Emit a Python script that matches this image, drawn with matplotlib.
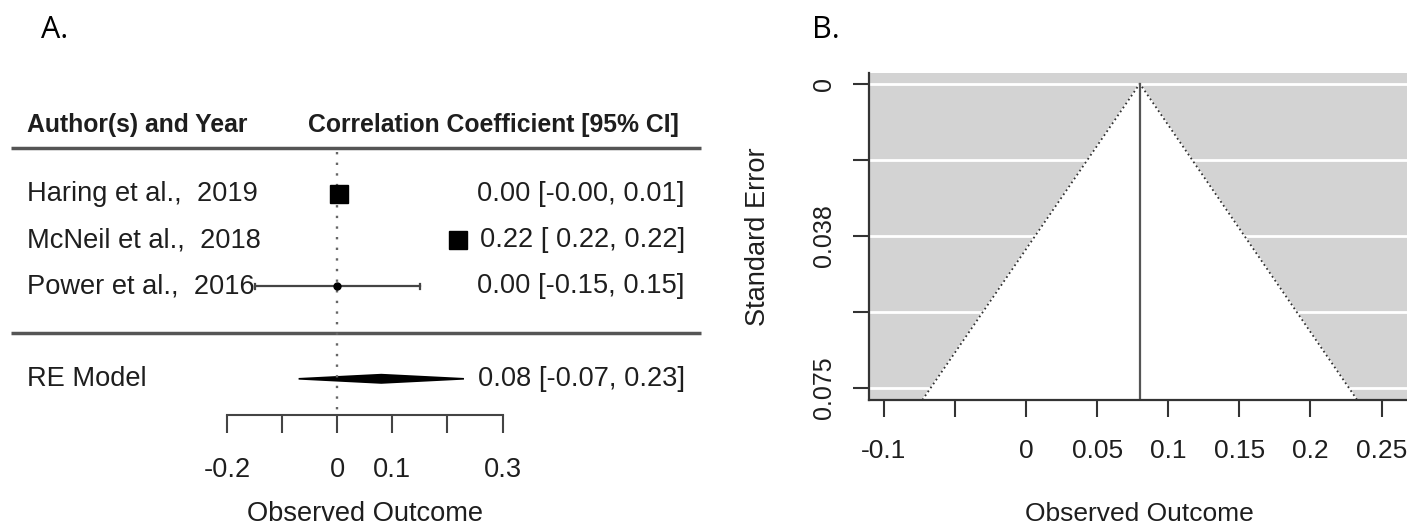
import numpy as np
import matplotlib
matplotlib.use('Agg')
import matplotlib.pyplot as plt

plt.rcParams['font.family'] = ['Liberation Sans', 'DejaVu Sans']

# Forest plot data (panel A)
study_labels = ['Haring et al.,  2019', 'McNeil et al.,  2018', 'Power et al.,  2016']
estimates = [0.003, 0.22, 0.00]
ci_low = [-0.003, 0.22, -0.15]
ci_high = [0.008, 0.22, 0.15]
marker_kind = ['square', 'square', 'dot']

re_label = 'RE Model'
re_est = 0.08
re_low = -0.07
re_high = 0.23

forest_ticks = [-0.2, -0.1, 0.0, 0.1, 0.2, 0.3]
forest_ticklabels = ['-0.2', '', '0', '0.1', '', '0.3']

# Funnel plot data (panel B)
funnel_center = 0.08
se_ticks = [0.0, 0.01875, 0.0375, 0.05625, 0.075]
se_ticklabels = ['0', '', '0.038', '', '0.075']
funnel_xticks = [-0.1, -0.05, 0.0, 0.05, 0.1, 0.15, 0.2, 0.25]
funnel_xticklabels = ['-0.1', '', '0', '0.05', '0.1', '0.15', '0.2', '0.25']

TXT = '#1e1e1e'
FS = 19.6

fig = plt.figure(figsize=(14.07, 5.29), dpi=100)

# ---------------- panel A: forest plot ----------------
ax_a = fig.add_axes([0, 0, 703.5 / 1407, 1])
px0, ppu = 337.2, 551.0
ax_a.set_xlim((0 - px0) / ppu, (703.5 - px0) / ppu)
ax_a.set_ylim(-2.251, 9.199)
for s in ['top', 'right', 'left']:
    ax_a.spines[s].set_visible(False)
ax_a.set_yticks([])
ax_a.patch.set_alpha(0)

rows = np.arange(len(study_labels), 0, -1) + 2
x_left = -0.563
x_right = 0.631

ax_a.text(x_left, 6.5, 'Author(s) and Year', ha='left', va='center',
          fontsize=17.8, fontweight='bold', color=TXT)
ax_a.text(0.62, 6.5, 'Correlation Coefficient [95% CI]', ha='right', va='center',
          fontsize=17.8, fontweight='bold', color=TXT)
ax_a.plot([-0.592, 0.66], [6, 6], color='#555555', lw=2.5, solid_capstyle='butt')
ax_a.plot([-0.592, 0.66], [2, 2], color='#555555', lw=2.5, solid_capstyle='butt')
ax_a.plot([0, 0], [5.9, 0.22], color='#666666', lw=1.7, linestyle=(0, (1, 3.5)))

for y, lab, est, lo, hi, kind in zip(rows, study_labels, estimates, ci_low, ci_high, marker_kind):
    ax_a.text(x_left, y, lab, ha='left', va='center', fontsize=FS, color=TXT)
    ax_a.text(x_right, y, f'{est:.2f} [{lo:5.2f}, {hi:.2f}]',
              ha='right', va='center', fontsize=FS, color=TXT)
    if kind == 'square':
        ax_a.plot([lo, hi], [y, y], color='#333333', lw=1.5)
        ax_a.plot(est, y, marker='s', markersize=13, color='black', linestyle='none')
    else:
        ax_a.plot([lo, hi], [y, y], color='#444444', lw=1.6)
        ax_a.plot([lo, lo], [y - 0.06, y + 0.06], color='#444444', lw=1.6)
        ax_a.plot([hi, hi], [y - 0.06, y + 0.06], color='#444444', lw=1.6)
        ax_a.plot(est, y, marker='o', markersize=5, color='black', linestyle='none')

ax_a.text(x_left, 1, re_label, ha='left', va='center', fontsize=FS, color=TXT)
ax_a.text(x_right, 1, f'{re_est:.2f} [{re_low:5.2f}, {re_high:.2f}]',
          ha='right', va='center', fontsize=FS, color=TXT)
ax_a.fill([re_low, re_est, re_high, re_est], [1, 1.09, 1, 0.91],
          color='black', lw=1.2, edgecolor='black')

ax_a.spines['bottom'].set_position(('data', 0.22))
ax_a.spines['bottom'].set_bounds(forest_ticks[0], forest_ticks[-1])
ax_a.spines['bottom'].set_color('#444444')
ax_a.spines['bottom'].set_linewidth(1.5)
ax_a.set_xticks(forest_ticks)
ax_a.set_xticklabels(forest_ticklabels)
ax_a.tick_params(axis='x', direction='out', length=13, width=1.5, color='#444444',
                 labelsize=FS, labelcolor=TXT, pad=17)
ax_a.set_xlabel('Observed Outcome', fontsize=FS, color=TXT, va='center')
ax_a.xaxis.set_label_coords(0.05, -1.926, transform=ax_a.transData)

# ---------------- panel B: funnel plot ----------------
ax_b = fig.add_axes([869 / 1407, 129 / 529, (1410 - 869) / 1407, 327.5 / 529])
ax_b.set_facecolor('#d3d3d3')
ax_b.set_xlim(-0.1104, 0.27)
se_lim = 0.078
ax_b.set_ylim(se_lim, -0.00276)
for s in ['top', 'right']:
    ax_b.spines[s].set_visible(False)
for s in ['left', 'bottom']:
    ax_b.spines[s].set_color('#333333')
    ax_b.spines[s].set_linewidth(1.6)

ax_b.set_yticks(se_ticks)
ax_b.set_yticklabels(se_ticklabels, rotation=90, va='center')
ax_b.set_xticks(funnel_xticks)
ax_b.set_xticklabels(funnel_xticklabels)
ax_b.yaxis.grid(True, color='white', lw=2)
ax_b.set_axisbelow(True)

funnel_x = [funnel_center - 1.96 * se_lim, funnel_center, funnel_center + 1.96 * se_lim]
funnel_y = [se_lim, 0, se_lim]
ax_b.fill(funnel_x, funnel_y, color='white', zorder=1.5)
ax_b.plot(funnel_x, funnel_y, color='#333333', lw=1.3, linestyle=':', zorder=2)
ax_b.plot([funnel_center, funnel_center], [0, se_lim], color='#555555', lw=1.6, zorder=2)

ax_b.tick_params(axis='x', direction='out', length=12, width=1.5, color='#333333',
                 labelsize=19, labelcolor=TXT, pad=16)
ax_b.tick_params(axis='y', direction='out', length=11.5, width=1.5, color='#333333',
                 labelsize=18, labelcolor=TXT, pad=12)
ax_b.set_xlabel('Observed Outcome', fontsize=19, color=TXT, va='center')
ax_b.xaxis.set_label_coords(0.5, -0.348)
ax_b.set_ylabel('Standard Error', fontsize=FS, color=TXT, va='center')
ax_b.yaxis.set_label_coords(-0.2052, 0.5)

fig.text(41 / 1407, (529 - 38) / 529, 'A.', fontsize=22, family=['Open Sans', 'DejaVu Sans'],
         color='black', ha='left', va='baseline')
fig.text(812 / 1407, (529 - 38) / 529, 'B.', fontsize=22, family=['Open Sans', 'DejaVu Sans'],
         color='black', ha='left', va='baseline')

fig.savefig('out.png', dpi=100)
